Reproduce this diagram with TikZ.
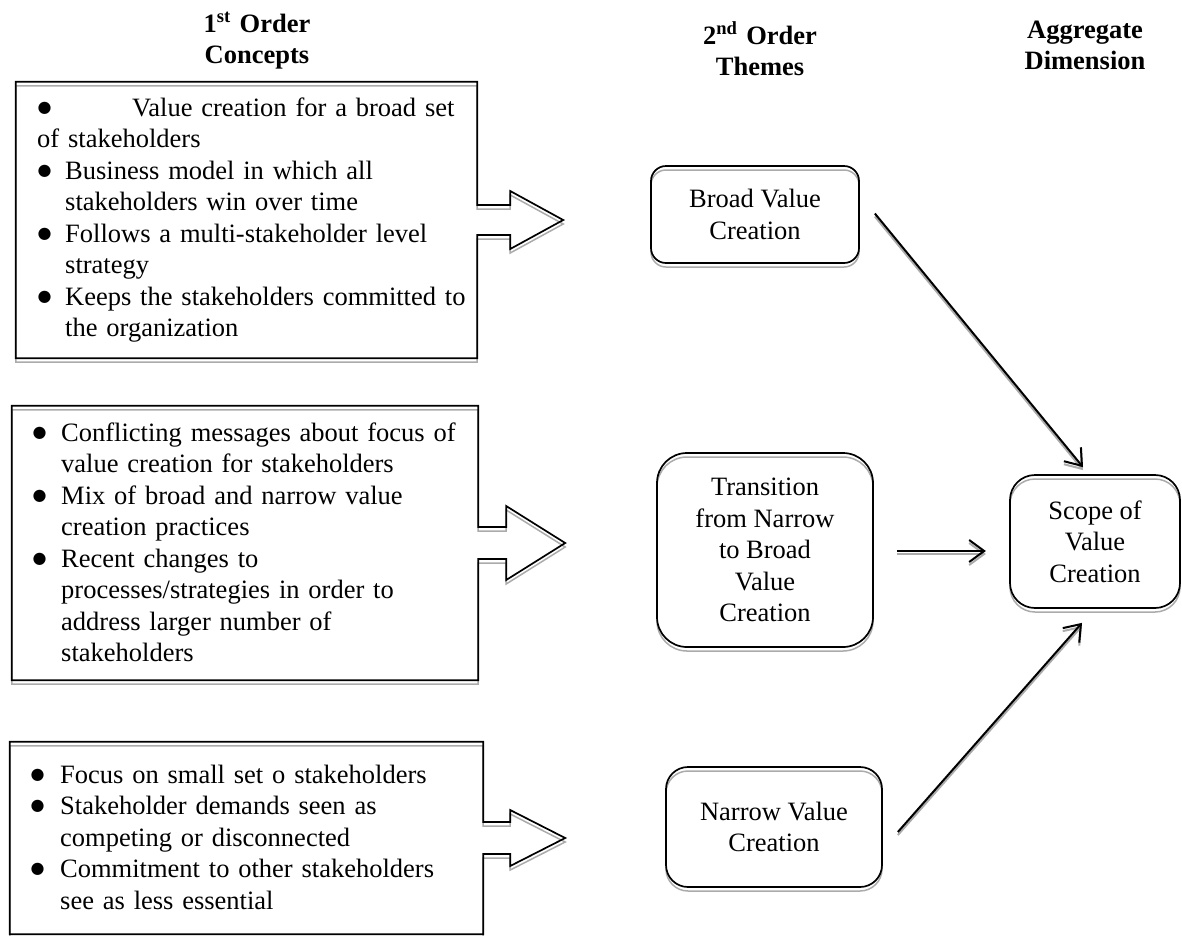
\documentclass[tikz,border=0pt]{standalone}
\usepackage{fontspec}
\setmainfont{Liberation Serif}
\newfontfamily\bulletfont{DejaVu Sans}
\usetikzlibrary{calc,arrows.meta}
\definecolor{shadowgray}{HTML}{ABABAB}
\newcommand\blt[1]{\makebox[#1][l]{\hspace*{0.5pt}\raisebox{4pt}{\bulletfont\fontsize{16}{16}\selectfont ●}}}
\tikzset{
  shadowed/.style={preaction={draw=shadowgray, line width=1.5pt, transform canvas={yshift=-4pt}}},
  lineshadow/.style={preaction={draw=shadowgray, line width=2pt, transform canvas={yshift=-3pt}}},
  callout/.style={draw=black, line width=1.7pt, line join=miter, shadowed},
  holder/.style={draw=none, inner sep=0pt},
  listtext/.style={anchor=base west, inner sep=0pt, text width=440pt, align=left,
    font=\fontsize{26.5}{31.5}\selectfont},
  title/.style={anchor=base, inner sep=0pt, text width=220pt, align=center,
    font=\fontsize{26.5}{31.5}\selectfont\bfseries},
  theme/.style={draw=black, line width=1.7pt, align=center, inner sep=0pt, shadowed,
    font=\fontsize{26.5}{31.5}\selectfont},
  conn/.style={draw=black, line width=2pt, lineshadow,
    -{Straight Barb[length=15pt,width=22pt,line width=2pt]}}
}
\begin{document}
\begin{tikzpicture}[x=1pt,y=-1pt]
\useasboundingbox (0,0) rectangle (1182,935);

% titles
\node[title] (h1) at (257,32) {1\textsuperscript{st} Order\\Concepts};
\node[title] (h2) at (760,44) {2\textsuperscript{nd} Order\\Themes};
\node[title] (h3) at (1085,38) {Aggregate\\Dimension};

% concept boxes (holders)
\node[holder, minimum width=461pt, minimum height=276pt] (b1) at (246.5,220) {};
\node[holder, minimum width=466pt, minimum height=274pt] (b2) at (245,543) {};
\node[holder, minimum width=473pt, minimum height=192pt] (b3) at (246.5,838) {};

% callout outlines
\draw[callout] ($(b1.east)+(0,-15)$) -- (b1.north east) -- (b1.north west) -- (b1.south west)
  -- (b1.south east) -- ($(b1.east)+(0,15)$) -- ++(33,0) -- ++(0,14)
  -- ($(b1.east)+(86,0)$) -- ++(-53,-29) -- ++(0,14) -- cycle;
\draw[callout] ($(b2.east)+(0,-16)$) -- (b2.north east) -- (b2.north west) -- (b2.south west)
  -- (b2.south east) -- ($(b2.east)+(0,16)$) -- ++(28,0) -- ++(0,21)
  -- ($(b2.east)+(87,0)$) -- ++(-59,-37) -- ++(0,21) -- cycle;
\draw[callout] ($(b3.east)+(0,-16)$) -- (b3.north east) -- (b3.north west) -- (b3.south west)
  -- (b3.south east) -- ($(b3.east)+(0,16)$) -- ++(27,0) -- ++(0,12)
  -- ($(b3.east)+(82,0)$) -- ++(-55,-28) -- ++(0,12) -- cycle;

% list texts
\node[listtext] (t1) at (37,116) {%
\blt{95pt}Value creation for a broad set\\
of stakeholders\\
\blt{28pt}Business model in which all\\
\hspace*{28pt}stakeholders win over time\\
\blt{28pt}Follows a multi-stakeholder level\\
\hspace*{28pt}strategy\\
\blt{28pt}Keeps the stakeholders committed to\\
\hspace*{28pt}the organization};

\node[listtext] (t2) at (32,441) {%
\blt{29pt}Conflicting messages about focus of\\
\hspace*{29pt}value creation for stakeholders\\
\blt{29pt}Mix of broad and narrow value\\
\hspace*{29pt}creation practices\\
\blt{29pt}Recent changes to\\
\hspace*{29pt}processes/strategies in order to\\
\hspace*{29pt}address larger number of\\
\hspace*{29pt}stakeholders};

\node[listtext] (t3) at (30,783) {%
\blt{30pt}Focus on small set o stakeholders\\
\blt{30pt}Stakeholder demands seen as\\
\hspace*{30pt}competing or disconnected\\
\blt{30pt}Commitment to other stakeholders\\
\hspace*{30pt}see as less essential};

% theme boxes
\node[theme, rounded corners=15pt, minimum width=208pt, minimum height=97pt] (broad) at (755,214.5) {Broad Value\\Creation};
\node[theme, rounded corners=30pt, minimum width=216pt, minimum height=194pt] (trans) at (765,550) {Transition\\from Narrow\\to Broad\\Value\\Creation};
\node[theme, rounded corners=22pt, minimum width=216pt, minimum height=120pt] (narrow) at (774,827) {Narrow Value\\Creation};
\node[theme, rounded corners=25pt, minimum width=170pt, minimum height=133pt] (scope) at (1095,541.5) {Scope of\\Value\\Creation};

% connectors
\draw[conn] ($(broad.east)+(15,-1)$) -- ($(scope.north)+(-12,-7)$);
\draw[conn] ($(trans.east)+(23,1)$) -- ($(trans.east)+(112,1)$);
\draw[conn] ($(narrow.east)+(15,5)$) -- ($(scope.south)+(-13,14)$);
\end{tikzpicture}
\end{document}
